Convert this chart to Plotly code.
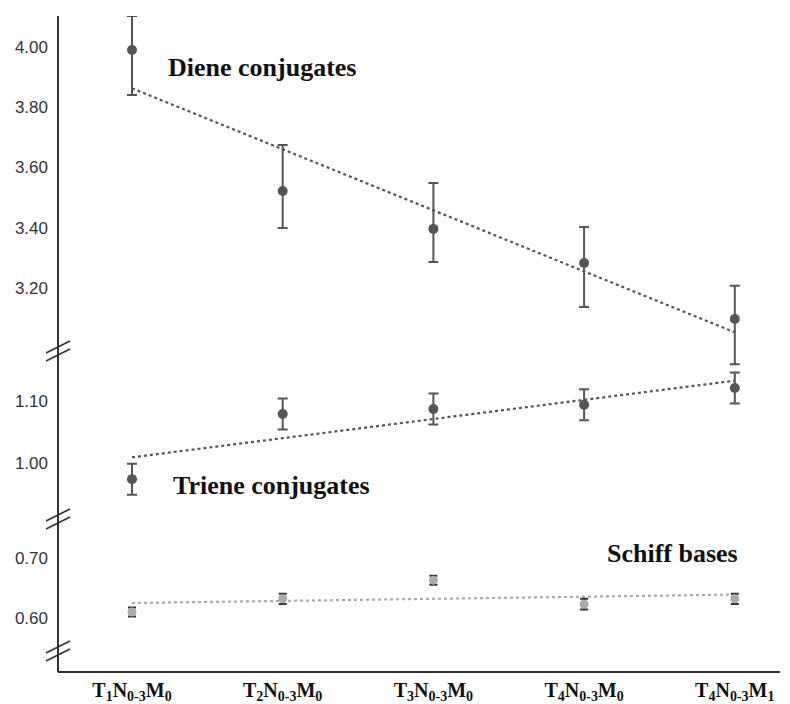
import numpy as np
import plotly.graph_objects as go

# ---------------- data ----------------
categories = [
    "T<sub>1</sub>N<sub>0-3</sub>M<sub>0</sub>",
    "T<sub>2</sub>N<sub>0-3</sub>M<sub>0</sub>",
    "T<sub>3</sub>N<sub>0-3</sub>M<sub>0</sub>",
    "T<sub>4</sub>N<sub>0-3</sub>M<sub>0</sub>",
    "T<sub>4</sub>N<sub>0-3</sub>M<sub>1</sub>",
]
cat_index = [0, 1, 2, 3, 4]

diene = [3.990, 3.522, 3.396, 3.283, 3.097]
diene_err_plus = [0.113, 0.152, 0.152, 0.119, 0.110]
diene_err_minus = [0.150, 0.123, 0.110, 0.146, 0.150]

triene = [0.974, 1.079, 1.087, 1.094, 1.121]
triene_err = [0.025, 0.025, 0.025, 0.025, 0.025]

schiff = [0.610, 0.632, 0.663, 0.623, 0.632]
schiff_err = [0.0075, 0.0085, 0.0075, 0.009, 0.0085]

diene_ticks = [3.20, 3.40, 3.60, 3.80, 4.00]
triene_ticks = [1.00, 1.10]
schiff_ticks = [0.60, 0.70]

# ---------------- layout constants ----------------
OFF = 8                     # default page margin of the html body
W, H = 790 - OFF, 704 - OFF
ML, MR, MT, MB = 58 - OFF, 10, 16 - OFF, 32
PW, PH = W - ML - MR, H - MT - MB


def px_x(px):               # screen pixel -> paper fraction
    return (px - OFF - ML) / PW


def px_y(py):
    return (H - MB - (py - OFF)) / PH


def trend(values):
    k, b = np.polyfit(cat_index, values, 1)
    return [k * i + b for i in cat_index]


DARK = "#555555"
LIGHT = "#ababab"

fig = go.Figure()

# Diene conjugates (top panel)
fig.add_trace(go.Scatter(
    x=cat_index, y=trend(diene), mode="lines", yaxis="y",
    line=dict(color=DARK, width=2.2, dash="dot"), hoverinfo="skip"))
fig.add_trace(go.Scatter(
    x=cat_index, y=diene, mode="markers", yaxis="y", cliponaxis=False,
    marker=dict(color=DARK, size=10),
    error_y=dict(type="data", symmetric=False, array=diene_err_plus,
                 arrayminus=diene_err_minus, color=DARK, thickness=2, width=5)))

# Triene conjugates (middle panel)
fig.add_trace(go.Scatter(
    x=cat_index, y=trend(triene), mode="lines", yaxis="y2",
    line=dict(color=DARK, width=2.2, dash="dot"), hoverinfo="skip"))
fig.add_trace(go.Scatter(
    x=cat_index, y=triene, mode="markers", yaxis="y2", cliponaxis=False,
    marker=dict(color=DARK, size=10),
    error_y=dict(type="data", array=triene_err, color=DARK, thickness=2, width=5)))

# Schiff bases (bottom panel)
fig.add_trace(go.Scatter(
    x=cat_index, y=trend(schiff), mode="lines", yaxis="y3",
    line=dict(color=LIGHT, width=2.2, dash="dot"), hoverinfo="skip"))
fig.add_trace(go.Scatter(
    x=cat_index, y=schiff, mode="markers", yaxis="y3", cliponaxis=False,
    marker=dict(color=LIGHT, size=9),
    error_y=dict(type="data", array=schiff_err, color="#333333", thickness=2, width=4)))

ytick_font = dict(family="Liberation Sans, Arial, sans-serif", size=17, color="#333333")


def yaxis_common(ticks, dom, rng):
    return dict(domain=dom, range=rng, tickvals=ticks,
                ticktext=[f"{t:.2f}" for t in ticks],
                showgrid=False, zeroline=False, showline=False, ticks="",
                ticklabelstandoff=10, tickfont=ytick_font, anchor="free", position=0,
                automargin=False)


shapes = [dict(type="line", xref="paper", yref="paper", x0=0, x1=0, y0=0, y1=1,
               line=dict(color="#333333", width=2))]
for cy in [351, 519, 651]:
    for off in [-4, 4]:
        shapes.append(dict(type="line", xref="paper", yref="paper",
                           x0=px_x(46), x1=px_x(70),
                           y0=px_y(cy + off + 6), y1=px_y(cy + off - 6),
                           line=dict(color="#333333", width=1.6)))

label_font = dict(family="Liberation Serif, Times New Roman, serif", size=26, color="#111111")
annotations = [
    dict(text="<b>Diene conjugates</b>", x=px_x(166), y=px_y(68)),
    dict(text="<b>Triene conjugates</b>", x=px_x(171), y=px_y(485)),
    dict(text="<b>Schiff bases</b>", x=px_x(605), y=px_y(553)),
]
for a in annotations:
    a.update(xref="paper", yref="paper", xanchor="left", yanchor="middle",
             showarrow=False, font=label_font)

fig.update_layout(
    width=W, height=H,
    margin=dict(l=ML, r=MR, t=MT, b=MB, pad=0, autoexpand=False),
    paper_bgcolor="white", plot_bgcolor="rgba(0,0,0,0)",
    showlegend=False,
    xaxis=dict(range=[-0.491, 4.30], tickvals=cat_index, ticktext=[f"<b>{c}</b>" for c in categories],
               showgrid=False, zeroline=False, showline=True, linecolor="#333333", linewidth=2,
               ticks="", anchor="free", position=0, ticklabelstandoff=0, automargin=False,
               tickfont=dict(family="Liberation Serif, Times New Roman, serif", size=20, color="#111111")),
    yaxis=yaxis_common(diene_ticks, [0.45, 1.0], [2.905, 4.1026]),
    yaxis2=yaxis_common(triene_ticks, [0.2317, 0.5061], [0.9081, 1.1984]),
    yaxis3=yaxis_common(schiff_ticks, [0.0183, 0.2317], [0.53, 0.7633]),
    shapes=shapes,
    annotations=annotations,
)

fig.write_html("out.html")
